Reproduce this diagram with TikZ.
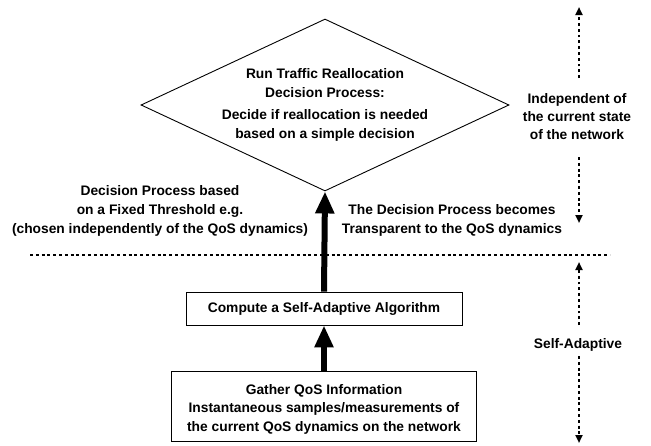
\documentclass[tikz,border=0pt]{standalone}
\usepackage{fontspec}
\setmainfont{Liberation Sans}
\usetikzlibrary{arrows.meta,shapes.geometric}
\begin{document}
\begin{tikzpicture}[x=1pt,y=-1pt,
  lbl/.style={font=\bfseries\fontsize{13.8}{19}\selectfont, align=center, inner sep=0pt},
  boxstyle/.style={draw, line width=0.9pt, inner sep=0pt},
  flow/.style={line width=6pt, -{Triangle[width=18pt,length=22pt]}},
  dotline/.style={line width=2.6pt, dash pattern=on 2.9pt off 2.9pt},
  dotarrow/.style={dotline, -{Triangle[width=7pt,length=8pt]}}]
\useasboundingbox (0,0) rectangle (651,445);

% decision diamond and its text
\node[draw, diamond, minimum width=368pt, minimum height=172pt, inner sep=0pt, line width=0.9pt] (dec) at (325,105) {};
\node[lbl] (dectext) at (325,105) {Run Traffic Reallocation\\Decision Process:\\[3.5pt]Decide if reallocation is needed\\based on a simple decision};

% process boxes
\node[boxstyle, lbl, minimum width=276pt, minimum height=33pt] (comp) at (324,308.5) {Compute a Self-Adaptive Algorithm};
\node[boxstyle, minimum width=305pt, minimum height=70pt] (gat) at (324,406) {};
\node[lbl, font=\bfseries\fontsize{13.8}{18.5}\selectfont] (gattext) at (324,409) {Gather QoS Information\\Instantaneous samples/measurements of\\the current QoS dynamics on the network};

% flow arrows
\draw[flow] (comp.north) -- (dec.south);
\draw[flow] (gat.north) -- (comp.south);

% separator
\coordinate (hl) at (30,255);
\coordinate (hr) at (610,255);
\draw[dotline] (hl) -- (hr);

% side labels
\node[lbl] (fixed) at (160,211) {Decision Process based\\on a Fixed Threshold e.g.\\(chosen independently of the QoS dynamics)};
\node[lbl] (transp) at (452,220.5) {The Decision Process becomes\\Transparent to the QoS dynamics};
\node[lbl, font=\bfseries\fontsize{13.8}{18.3}\selectfont] (indep) at (577,116.7) {Independent of\\the current state\\of the network};
\node[lbl] (self) at (578,345) {Self-Adaptive};

% range arrows on the right
\coordinate (t1s) at (579,78);  \coordinate (t1e) at (579,7);
\coordinate (t2s) at (579,157); \coordinate (t2e) at (579,223);
\coordinate (t3s) at (579,325); \coordinate (t3e) at (579,262);
\coordinate (t4s) at (579,356); \coordinate (t4e) at (579,443);
\draw[dotarrow] (t1s) -- (t1e);
\draw[dotarrow] (t2s) -- (t2e);
\draw[dotarrow] (t3s) -- (t3e);
\draw[dotarrow] (t4s) -- (t4e);
\end{tikzpicture}
\end{document}
